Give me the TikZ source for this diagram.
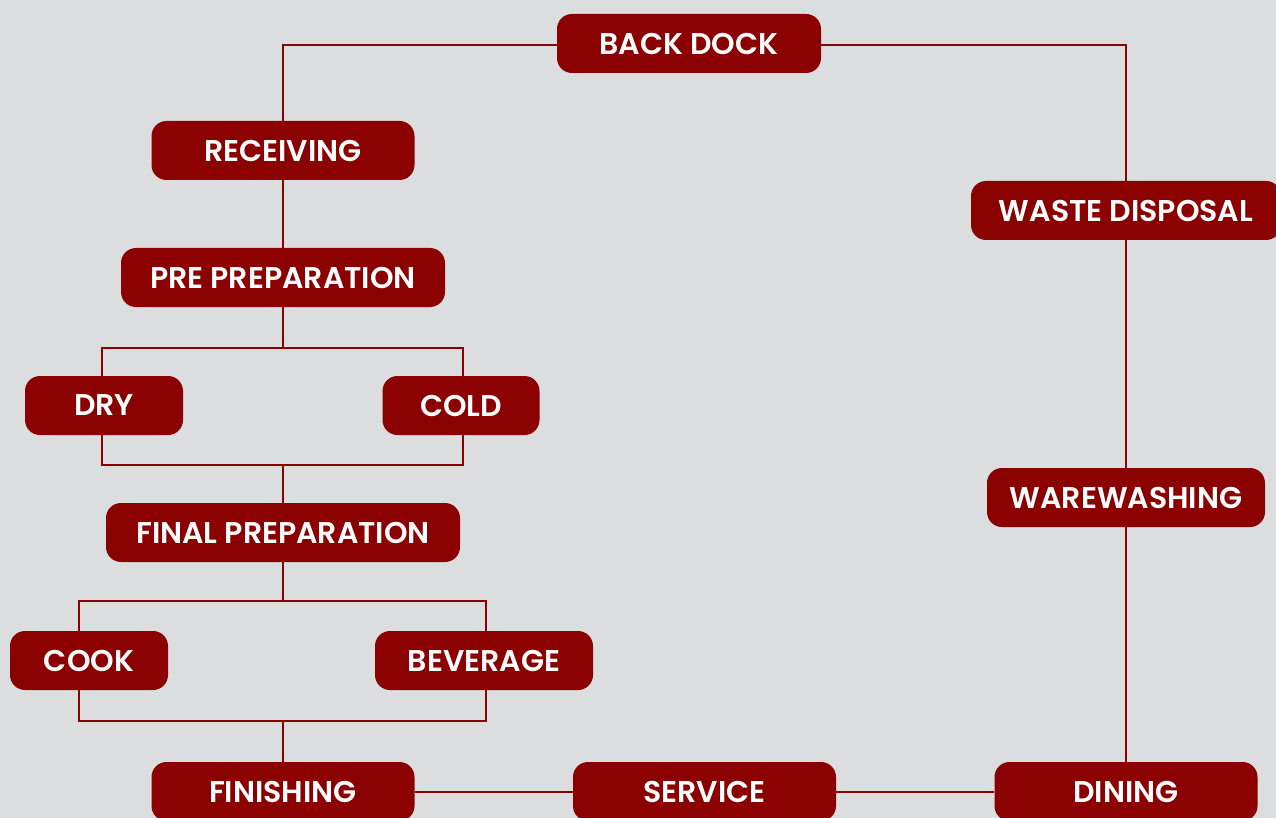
\documentclass[tikz,border=0pt]{standalone}
\usepackage{fontspec}
\setmainfont{Poppins}[BoldFont={Poppins SemiBold}]
\usetikzlibrary{positioning}
\definecolor{wine}{HTML}{8B0000}
\definecolor{paper}{HTML}{DCDDDF}
\tikzset{
	area/.style={rectangle,rounded corners=15pt,fill=wine,text=white,inner sep=0pt,
		minimum height=59pt,font=\bfseries\fontsize{30}{32}\selectfont},
	link/.style={draw=wine,line width=2pt},
}
\begin{document}
\begin{tikzpicture}[x=1pt,y=-1pt]
\useasboundingbox[fill=paper] (0,0) rectangle (1276,818);
%STATIONS
\node[area,minimum width=264pt] (back) at (689,43.5) {BACK DOCK};
\node[area,minimum width=263pt] (recv) at (283,150.5) {RECEIVING};
\node[area,minimum width=324pt] (prep) at (283,277.5) {PRE PREPARATION};
\node[area,minimum width=158pt] (dry) at (104,405.5) {DRY};
\node[area,minimum width=157pt] (cold) at (461,405.5) {COLD};
\node[area,minimum width=354pt] (final) at (283,532.5) {FINAL PREPARATION};
\node[area,minimum width=158pt] (cook) at (89,660.5) {COOK};
\node[area,minimum width=218pt] (bev) at (484,660.5) {BEVERAGE};
\node[area,minimum width=263pt] (finish) at (283,791.5) {FINISHING};
\node[area,minimum width=263pt] (serve) at (704.5,791.5) {SERVICE};
\node[area,minimum width=263pt] (dine) at (1126,791.5) {DINING};
\node[area,minimum width=310pt] (waste) at (1126,210.5) {WASTE DISPOSAL};
\node[area,minimum width=278pt] (ware) at (1126,497.5) {WAREWASHING};
%BUS POINTS
\coordinate (split1) at (283,348);
\coordinate (join1) at (283,465);
\coordinate (split2) at (283,601);
\coordinate (join2) at (283,721);
%LINKS
\draw[link] ([yshift=-1.5pt]back.west) -| (recv.north);
\draw[link] ([yshift=-1.5pt]back.east) -| (waste.north);
\draw[link] (recv.south) -- (prep.north);
\draw[link] (prep.south) -- (split1);
\draw[link] ([xshift=-2pt]dry.north) |- (split1) -| ([xshift=2pt]cold.north);
\draw[link] ([xshift=-2pt]dry.south) |- (join1) -| ([xshift=2pt]cold.south);
\draw[link] (join1) -- (final.north);
\draw[link] (final.south) -- (split2);
\draw[link] ([xshift=-10pt]cook.north) |- (split2) -| ([xshift=2pt]bev.north);
\draw[link] ([xshift=-10pt]cook.south) |- (join2) -| ([xshift=2pt]bev.south);
\draw[link] (join2) -- (finish.north);
\draw[link] (finish.east) -- (serve.west);
\draw[link] (serve.east) -- (dine.west);
\draw[link] (waste.south) -- (ware.north);
\draw[link] (ware.south) -- (dine.north);
\end{tikzpicture}
\end{document}
